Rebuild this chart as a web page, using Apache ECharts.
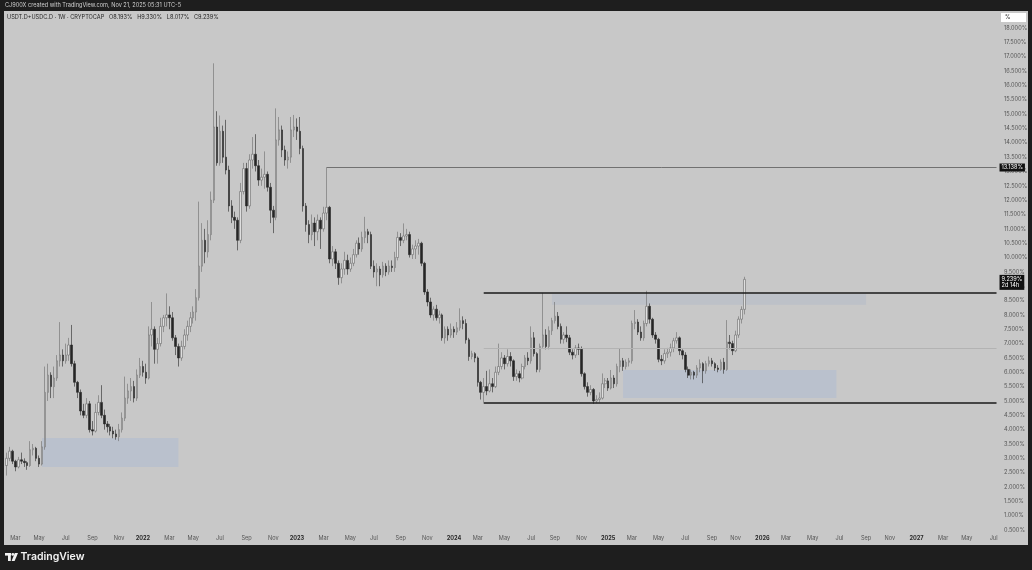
<!DOCTYPE html>
<html>
<head>
<meta charset="utf-8">
<title>USDT.D+USDC.D 1W</title>
<script src="https://cdn.jsdelivr.net/npm/echarts@6/dist/echarts.min.js"></script>
<style>
  html, body { margin: 0; padding: 0; background: #1e1e1e; }
  #chart { width: 1032px; height: 570px; }
</style>
</head>
<body>
<div id="chart"></div>
<script>
// weekly candles, [open, close, low, high] in %
const w2021 = [
  [2.75, 3.0, 2.4, 3.2], [3.0, 3.25, 2.9, 3.4], [3.25, 2.9, 2.8, 3.3], [2.9, 2.7, 2.55, 2.95],
  [2.7, 2.95, 2.65, 3.05], [2.95, 2.9, 2.8, 3.2], [2.9, 2.85, 2.7, 3.0], [2.85, 2.75, 2.6, 2.9],
  [2.75, 3.3, 2.7, 3.6], [3.3, 3.35, 3.1, 3.5], [3.35, 3.0, 2.9, 3.4], [3.0, 2.8, 2.7, 3.1],
  [2.8, 3.4, 2.75, 3.6], [3.4, 5.3, 3.3, 6.2], [5.3, 5.9, 5.0, 6.3], [5.9, 5.5, 5.1, 6.0],
  [5.5, 5.8, 5.1, 6.2], [5.8, 6.4, 5.7, 6.6], [6.4, 6.6, 6.2, 7.75], [6.6, 6.4, 6.2, 6.8],
  [6.4, 6.6, 6.3, 7.0], [6.6, 6.95, 6.4, 7.2], [6.95, 6.3, 6.2, 7.65], [6.3, 5.65, 5.5, 6.4],
  [5.65, 5.3, 5.1, 5.7], [5.3, 4.65, 4.5, 5.4], [4.65, 4.5, 4.4, 4.9], [4.5, 4.9, 4.4, 5.1],
  [4.9, 4.0, 3.9, 5.0], [4.0, 3.95, 3.8, 4.3], [3.95, 4.6, 3.9, 4.9], [4.6, 4.95, 4.5, 5.2],
  [4.95, 4.5, 4.4, 5.55], [4.5, 4.2, 4.0, 4.7], [4.2, 4.1, 3.9, 4.3], [4.1, 3.95, 3.8, 4.2],
  [3.95, 3.85, 3.7, 4.1], [3.85, 3.75, 3.65, 4.0], [3.75, 4.0, 3.6, 4.2], [4.0, 4.4, 3.9, 4.6],
  [4.4, 5.1, 4.3, 5.85], [5.1, 5.35, 4.9, 5.6], [5.35, 5.5, 5.0, 5.8], [5.5, 5.1, 4.95, 5.7],
  [5.1, 5.9, 5.0, 6.1], [5.9, 6.2, 5.8, 6.5], [6.2, 6.0, 5.85, 6.4]
]
const w2022 = [
  [6.0, 5.8, 5.6, 6.3], [5.8, 7.3, 5.75, 7.6], [7.3, 7.5, 6.9, 8.45], [7.5, 6.8, 6.3, 7.6],
  [6.8, 7.0, 6.3, 7.2], [7.0, 7.6, 6.9, 7.9], [7.6, 7.9, 7.4, 8.0], [7.9, 8.0, 7.6, 8.75],
  [8.0, 7.9, 7.5, 8.3], [7.9, 7.2, 7.1, 8.1], [7.2, 6.9, 6.6, 7.3], [6.9, 6.5, 6.2, 7.0],
  [6.5, 6.9, 6.4, 7.1], [6.9, 7.3, 6.8, 7.5], [7.3, 7.6, 7.1, 7.8], [7.6, 7.9, 7.4, 8.1],
  [7.9, 8.1, 7.7, 8.3], [8.1, 8.6, 7.8, 8.9], [8.6, 9.7, 8.5, 11.95], [9.7, 10.6, 9.5, 11.2],
  [10.6, 10.2, 9.8, 11.0], [10.2, 10.8, 10.0, 11.3], [10.8, 12.0, 10.6, 12.3], [12.0, 14.55, 11.9, 16.77],
  [14.55, 13.3, 13.2, 15.1], [13.3, 14.4, 13.2, 14.95], [14.4, 13.5, 13.3, 14.6], [13.5, 13.05, 12.9, 14.8],
  [13.05, 11.8, 11.6, 13.2], [11.8, 11.4, 11.2, 12.0], [11.4, 11.3, 11.0, 11.6], [11.3, 10.6, 10.25, 11.4],
  [10.6, 12.3, 10.5, 12.6], [12.3, 13.1, 12.2, 13.3], [13.1, 11.8, 11.6, 13.3], [11.8, 13.4, 11.7, 13.6],
  [13.4, 13.6, 13.1, 14.2], [13.6, 13.2, 13.0, 14.3], [13.2, 12.7, 12.5, 13.4], [12.7, 12.8, 12.5, 13.1],
  [12.8, 12.9, 12.4, 13.7], [12.9, 12.45, 12.3, 13.0], [12.45, 11.65, 11.2, 12.6], [11.65, 11.4, 10.85, 11.8],
  [11.4, 14.1, 11.3, 15.2], [14.1, 14.45, 13.9, 14.9], [14.45, 13.75, 13.5, 14.6], [13.75, 13.4, 13.2, 13.9],
  [13.4, 13.5, 13.1, 13.7], [13.5, 14.45, 13.3, 14.9], [14.45, 14.55, 14.2, 14.97], [14.55, 14.4, 14.1, 14.85]
]
const w2023 = [
  [14.4, 13.8, 13.6, 14.9], [13.8, 11.8, 11.6, 13.9], [11.8, 11.15, 10.9, 11.9], [11.15, 10.8, 10.5, 11.3],
  [10.8, 11.2, 10.6, 11.5], [11.2, 10.9, 10.4, 11.4], [10.9, 11.3, 10.6, 11.5], [11.3, 11.0, 10.3, 11.4],
  [11.0, 11.55, 10.9, 11.77], [11.55, 11.75, 11.3, 13.138], [11.75, 9.95, 9.8, 11.8], [9.95, 10.2, 9.7, 10.4],
  [10.2, 9.8, 9.6, 10.3], [9.8, 9.3, 9.05, 9.9], [9.3, 9.6, 9.1, 9.8], [9.6, 9.9, 9.4, 10.2],
  [9.9, 9.6, 9.4, 10.1], [9.6, 9.8, 9.5, 10.0], [9.8, 10.1, 9.7, 10.3], [10.1, 10.5, 10.0, 10.6],
  [10.5, 10.3, 10.1, 10.7], [10.3, 10.7, 10.2, 10.9], [10.7, 10.9, 10.5, 11.42], [10.9, 10.8, 10.5, 11.0],
  [10.8, 9.7, 9.6, 10.9], [9.7, 9.5, 9.3, 9.9], [9.5, 9.6, 9.0, 9.8], [9.6, 9.4, 9.0, 9.7],
  [9.4, 9.7, 9.3, 9.85], [9.7, 9.5, 9.35, 9.8], [9.5, 9.7, 9.4, 9.9], [9.7, 9.65, 9.5, 9.9],
  [9.65, 10.0, 9.5, 10.2], [10.0, 10.7, 9.9, 10.9], [10.7, 10.6, 10.4, 10.85], [10.6, 10.75, 10.5, 11.19],
  [10.75, 10.8, 10.6, 11.0], [10.8, 10.1, 10.0, 10.9], [10.1, 10.3, 9.95, 10.45], [10.3, 10.4, 9.95, 10.6],
  [10.4, 10.5, 10.1, 10.65], [10.5, 9.8, 9.7, 10.55], [9.8, 8.8, 8.7, 9.85], [8.8, 8.45, 8.3, 8.9],
  [8.45, 8.0, 7.9, 8.6], [8.0, 8.2, 7.8, 8.3], [8.2, 7.9, 7.8, 8.35], [7.9, 8.0, 7.7, 8.15],
  [8.0, 7.2, 7.1, 8.05], [7.2, 7.5, 7.0, 7.6], [7.5, 7.3, 7.1, 7.6], [7.3, 7.5, 7.2, 7.7]
]
const w2024 = [
  [7.5, 7.4, 7.2, 7.6], [7.4, 7.55, 7.3, 7.75], [7.55, 7.8, 7.45, 8.23], [7.8, 7.7, 7.5, 7.95],
  [7.7, 7.13, 7.0, 7.85], [7.13, 6.55, 6.4, 7.2], [6.55, 6.65, 6.45, 6.75], [6.65, 6.5, 6.35, 6.7],
  [6.5, 5.65, 5.5, 6.55], [5.65, 5.3, 5.05, 5.7], [5.3, 5.5, 4.95, 5.8], [5.5, 5.35, 5.2, 6.05],
  [5.35, 5.6, 5.3, 6.1], [5.6, 5.5, 5.3, 5.8], [5.5, 6.0, 5.45, 6.2], [6.0, 6.2, 5.9, 7.0],
  [6.2, 6.5, 6.1, 6.7], [6.5, 6.3, 6.1, 6.6], [6.3, 6.55, 6.2, 6.8], [6.55, 6.4, 6.2, 6.7],
  [6.4, 5.85, 5.7, 6.45], [5.85, 5.95, 5.7, 6.1], [5.95, 5.8, 5.65, 6.05], [5.8, 6.2, 5.75, 6.3],
  [6.2, 6.5, 6.1, 6.6], [6.5, 6.4, 6.25, 6.7], [6.4, 7.2, 6.3, 7.6], [7.2, 6.65, 6.55, 7.4],
  [6.65, 6.1, 6.0, 6.7], [6.1, 6.9, 6.0, 7.0], [6.9, 7.3, 6.85, 8.77], [7.3, 6.9, 6.8, 7.5],
  [6.9, 7.45, 6.8, 7.6], [7.45, 7.8, 7.3, 7.9], [7.8, 7.95, 7.7, 8.45], [7.95, 7.6, 7.5, 8.1],
  [7.6, 7.15, 7.0, 7.7], [7.15, 7.3, 7.0, 7.4], [7.3, 7.2, 7.05, 7.6], [7.2, 6.7, 6.6, 7.3],
  [6.7, 6.6, 6.45, 6.8], [6.6, 6.85, 6.5, 6.95], [6.85, 6.8, 6.6, 7.0], [6.8, 5.95, 5.85, 6.9],
  [5.95, 5.5, 5.4, 6.0], [5.5, 5.3, 5.15, 5.65], [5.3, 5.4, 5.2, 5.55], [5.4, 5.0, 4.9, 5.45],
  [5.0, 5.05, 4.92, 5.2], [5.05, 5.1, 4.95, 5.3], [5.1, 5.6, 5.05, 5.96], [5.6, 5.7, 5.45, 5.8]
]
const w2025 = [
  [5.7, 5.45, 5.35, 5.8], [5.45, 5.8, 5.4, 6.08], [5.8, 5.6, 5.45, 5.9], [5.6, 6.2, 5.5, 6.3],
  [6.2, 6.4, 6.0, 6.84], [6.4, 6.2, 6.05, 6.5], [6.2, 6.35, 6.1, 6.45], [6.35, 6.4, 6.2, 6.5],
  [6.4, 7.7, 6.3, 7.8], [7.7, 7.75, 7.5, 8.17], [7.75, 7.4, 7.3, 7.85], [7.4, 7.2, 7.1, 7.6],
  [7.2, 7.7, 7.1, 7.8], [7.7, 8.3, 7.6, 8.84], [8.3, 7.85, 7.7, 8.4], [7.85, 7.3, 7.2, 7.9],
  [7.3, 7.15, 7.0, 7.4], [7.15, 6.45, 6.35, 7.2], [6.45, 6.4, 6.25, 6.6], [6.4, 6.65, 6.3, 6.8],
  [6.65, 6.7, 6.5, 6.85], [6.7, 6.85, 6.55, 7.0], [6.85, 7.1, 6.7, 7.2], [7.1, 7.2, 7.0, 7.4],
  [7.2, 6.75, 6.6, 7.25], [6.75, 6.6, 6.45, 6.8], [6.6, 6.1, 6.0, 6.7], [6.1, 5.9, 5.8, 6.2],
  [5.9, 6.0, 5.75, 6.1], [6.0, 5.9, 5.75, 6.05], [5.9, 6.15, 5.8, 6.25], [6.15, 6.3, 6.0, 6.45],
  [6.3, 6.05, 5.62, 6.35], [6.05, 6.3, 5.95, 6.4], [6.3, 6.4, 6.2, 6.55], [6.4, 6.3, 6.2, 6.5],
  [6.3, 6.15, 6.05, 6.35], [6.15, 6.1, 6.0, 6.25], [6.1, 6.35, 6.05, 6.45], [6.35, 6.1, 5.95, 6.5],
  [6.1, 7.05, 6.05, 7.82], [7.05, 7.0, 6.8, 7.3], [7.0, 6.75, 6.6, 7.1], [6.75, 7.3, 6.7, 7.45],
  [7.3, 7.85, 7.2, 7.95], [7.85, 8.19, 7.7, 8.3], [8.193, 9.239, 8.017, 9.33]
]

// drawn levels and zones (%)
const resistance = 8.77
const support = 4.95
const midLevel = 6.85
const highLevel = 13.138
const lastClose = 9.239
const monthNames = ['Jan', 'Feb', 'Mar', 'Apr', 'May', 'Jun', 'Jul', 'Aug', 'Sep', 'Oct', 'Nov', 'Dec']

// week categories (monday of each week), chart runs on past the last candle
const firstMonday = Date.UTC(2021, 1, 8)
const weeks = []
for (let i = 0; i < 335; i++) {
  weeks.push(new Date(firstMonday + i * 7 * 864e5).toISOString().slice(0, 10))
}
const candles = [].concat(w2021, w2022, w2023, w2024, w2025)
const lastIdx = candles.length - 1
const endCat = weeks[weeks.length - 1]

// month whose 1st day falls inside this week, or null
function monthStart (cat) {
  const d = new Date(cat + 'T00:00:00Z')
  if (d.getUTCDate() === 1) return d
  const e = new Date(d.getTime() + 6 * 864e5)
  if (e.getUTCMonth() !== d.getUTCMonth()) return new Date(Date.UTC(e.getUTCFullYear(), e.getUTCMonth(), 1))
  return null
}

const chart = echarts.init(document.getElementById('chart'), null, { renderer: 'canvas' })
const font = 'Inter, "Noto Sans", sans-serif'
const tagLabel = { show: true, position: 'end', distance: 3, color: '#fff', backgroundColor: '#111', padding: [1, 2], fontSize: 5.6 }

const option = {
  animation: false,
  backgroundColor: '#1e1e1e',
  textStyle: { fontFamily: font },
  graphic: [
    // light panel behind the plot and the axes
    { type: 'rect', z: -10, shape: { x: 4, y: 11, width: 1024, height: 534 }, style: { fill: '#c8c8c8' } },
    { type: 'text', left: 5, top: 2, style: { text: 'CJ900X created with TradingView.com, Nov 21, 2025 05:31 UTC-5', fill: '#cfcfcf', font: '5.6px ' + font } },
    { type: 'text', left: 7, top: 14, style: { text: 'USDT.D+USDC.D · 1W · CRYPTOCAP   O8.193%   H9.330%   L8.017%   C9.239%', fill: '#1f1f1f', font: '5.6px ' + font } },
    { type: 'rect', shape: { x: 1001, y: 13, width: 25, height: 9 }, style: { fill: '#ffffff' } },
    { type: 'text', left: 1005, top: 14.5, style: { text: '%', fill: '#222', font: '5.6px ' + font } },
    // TradingView logo
    { type: 'rect', shape: { x: 5, y: 553, width: 6, height: 2.6 }, style: { fill: '#f2f2f2' } },
    { type: 'rect', shape: { x: 8, y: 553, width: 2.8, height: 8 }, style: { fill: '#f2f2f2' } },
    { type: 'circle', shape: { cx: 12.8, cy: 554.4, r: 1.4 }, style: { fill: '#f2f2f2' } },
    { type: 'polygon', shape: { points: [[14.8, 553], [18, 553], [14.6, 561], [11.6, 561]] }, style: { fill: '#f2f2f2' } },
    { type: 'text', left: 20.5, top: 551, style: { text: 'TradingView', fill: '#f2f2f2', font: '600 10.5px ' + font } }
  ],
  grid: { left: 5, right: 34, top: 13.7, bottom: 25.6 },
  xAxis: {
    type: 'category',
    data: weeks,
    boundaryGap: true,
    axisLine: { show: false },
    axisTick: { show: false },
    splitLine: { show: false },
    axisLabel: {
      inside: true,
      margin: 3,
      interval: function (index, value) {
        const m = monthStart(value)
        return m !== null && m.getUTCMonth() % 2 === 0
      },
      formatter: function (value) {
        const m = monthStart(value)
        if (!m) return ''
        if (m.getUTCMonth() === 0) return '{y|' + m.getUTCFullYear() + '}'
        return monthNames[m.getUTCMonth()]
      },
      color: '#555',
      fontSize: 5.6,
      rich: { y: { fontSize: 5.6, fontWeight: 'bold', color: '#2a2a2a' } }
    }
  },
  yAxis: {
    type: 'value',
    position: 'right',
    min: 0,
    max: 18.5,
    interval: 0.5,
    axisLine: { show: false },
    axisTick: { show: false },
    splitLine: { show: false },
    axisLabel: {
      margin: 6,
      showMinLabel: false,
      showMaxLabel: false,
      color: '#555',
      fontSize: 5.6,
      formatter: function (v) { return v.toFixed(3) + '%' }
    }
  },
  series: [
    {
      type: 'candlestick',
      name: 'USDT.D+USDC.D',
      data: candles,
      barWidth: '68%',
      itemStyle: {
        color: '#dedede',
        color0: '#262626',
        borderColor: '#6c6c6c',
        borderColor0: '#262626',
        borderWidth: 0.6
      },
      markArea: {
        silent: true,
        data: [
          [{ xAxis: weeks[12], yAxis: 3.71, itemStyle: { color: '#bac1cd' } }, { xAxis: weeks[58], yAxis: 2.7 }],
          [{ xAxis: weeks[184], yAxis: 8.73, itemStyle: { color: '#bdc1c8' } }, { xAxis: weeks[290], yAxis: 8.35 }],
          [{ xAxis: weeks[208], yAxis: 6.08, itemStyle: { color: '#bac1cd' } }, { xAxis: weeks[280], yAxis: 5.1 }]
        ]
      },
      markLine: {
        silent: true,
        symbol: 'none',
        label: { show: false },
        data: [
          [{ coord: [weeks[108], highLevel], lineStyle: { color: '#5a5a5a', width: 0.8, type: 'solid' },
            label: Object.assign({}, tagLabel, { formatter: '13.138%' }) },
           { coord: [endCat, highLevel] }],
          [{ coord: [weeks[161], resistance], lineStyle: { color: '#1a1a1a', width: 1.5, type: 'solid' } }, { coord: [endCat, resistance] }],
          [{ coord: [weeks[161], support], lineStyle: { color: '#1a1a1a', width: 1.5, type: 'solid' } }, { coord: [endCat, support] }],
          [{ coord: [weeks[161], midLevel], lineStyle: { color: '#b3b3b3', width: 1, type: 'solid' } }, { coord: [endCat, midLevel] }],
          // last price tag, the line itself is not drawn
          [{ coord: [weeks[lastIdx], lastClose], lineStyle: { color: 'rgba(0,0,0,0)', width: 0.1, type: 'solid' },
            label: Object.assign({}, tagLabel, { formatter: '9.239%\n2d 14h', lineHeight: 6.5, offset: [0, 3] }) },
           { coord: [endCat, lastClose] }]
        ]
      }
    }
  ]
}

chart.setOption(option)
</script>
</body>
</html>
